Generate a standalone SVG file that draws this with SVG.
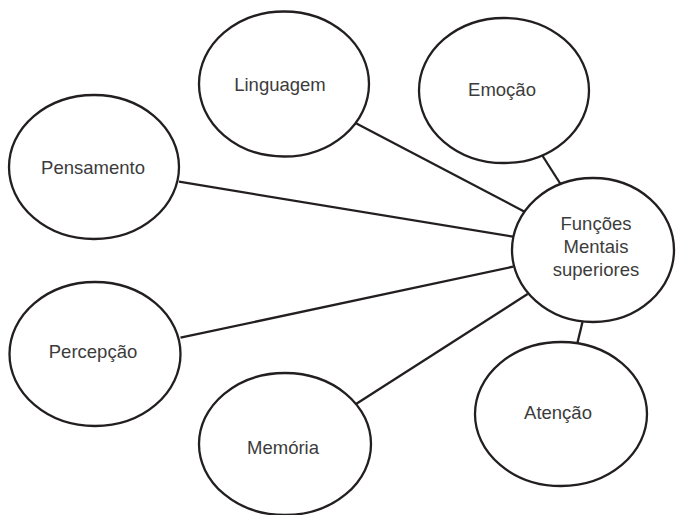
<svg xmlns="http://www.w3.org/2000/svg" width="677" height="515" viewBox="0 0 677 515">
<style>
.n{fill:#fff;stroke:#231f20;stroke-width:2.3}
.c line{stroke:#231f20;stroke-width:2.3}
text{font-family:"Liberation Sans",Arial,sans-serif;font-size:18.5px;fill:#3c3c3c;text-anchor:middle}
</style>
<rect width="677" height="515" fill="#fff"/>
<g class="c" id="connectors">
<line x1="355" y1="122.7" x2="524.6" y2="211.7"/>
<line x1="542" y1="155" x2="560.5" y2="184"/>
<line x1="179" y1="181.7" x2="513" y2="236.7"/>
<line x1="180.5" y1="337.7" x2="513" y2="266.7"/>
<line x1="356" y1="404" x2="527.6" y2="294"/>
<line x1="582.5" y1="322" x2="577.5" y2="342.5"/>
</g>
<g id="linguagem"><ellipse class="n" cx="284" cy="84" rx="85" ry="72.5"/><text x="280" y="91">Linguagem</text></g>
<g id="emocao"><ellipse class="n" cx="504" cy="90.5" rx="85" ry="72.5"/><text x="502" y="96">Emoção</text></g>
<g id="pensamento"><ellipse class="n" cx="94" cy="167" rx="85" ry="72"/><text x="93" y="174">Pensamento</text></g>
<g id="percepcao"><ellipse class="n" cx="95" cy="354" rx="85.5" ry="72"/><text x="93" y="358">Percepção</text></g>
<g id="memoria"><ellipse class="n" cx="285" cy="444" rx="86" ry="71"/><text x="283" y="454">Memória</text></g>
<g id="atencao"><ellipse class="n" cx="561" cy="414" rx="86" ry="72"/><text x="558" y="419">Atenção</text></g>
<g id="funcoes"><ellipse class="n" cx="593" cy="250" rx="81" ry="72"/><text x="596" y="230">Funções</text><text x="596" y="253">Mentais</text><text x="596" y="276">superiores</text></g>
</svg>
